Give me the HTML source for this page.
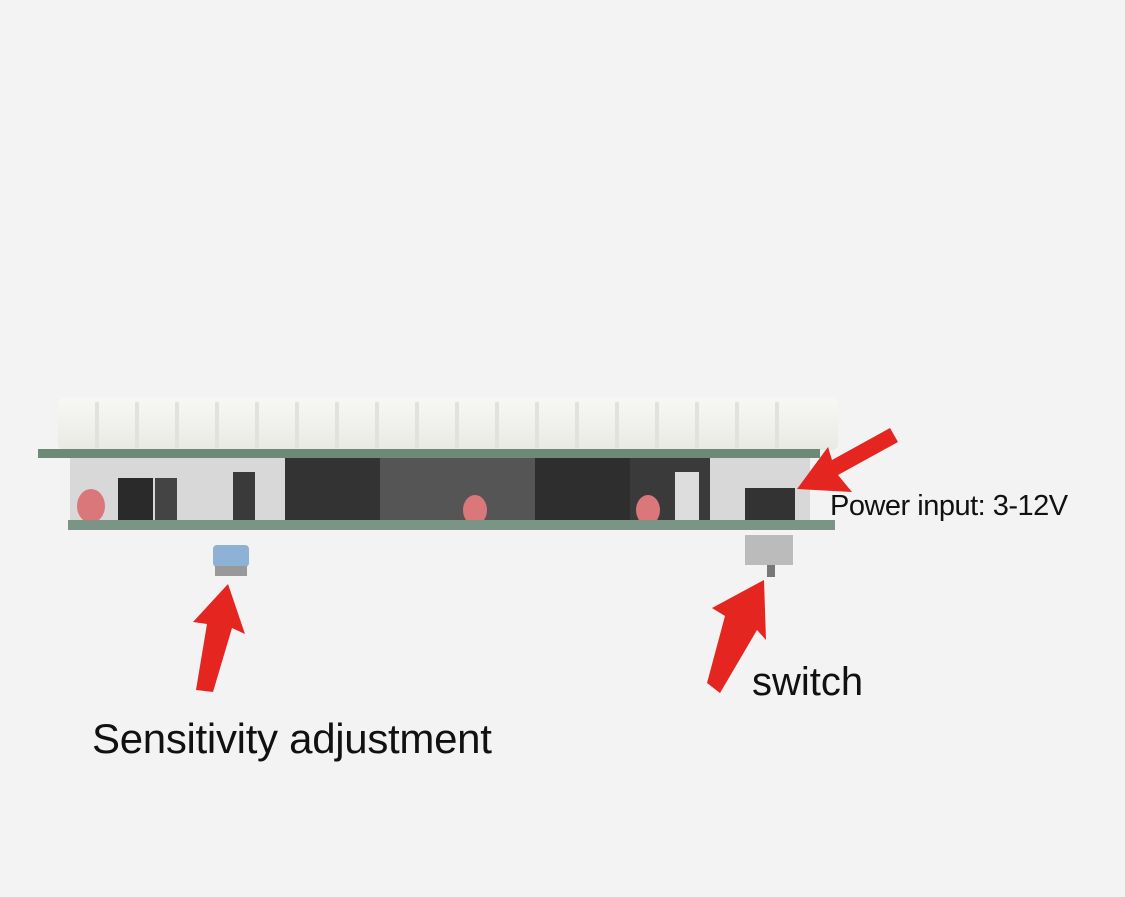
<!DOCTYPE html>
<html><head><style>
body{margin:0;width:1125px;height:897px;background:#f3f3f3;position:relative;overflow:hidden;font-family:"Liberation Sans",sans-serif}
.a{position:absolute}
.t{position:absolute;color:#111;white-space:nowrap}
</style></head><body>
<svg class="a" style="left:0;top:0" width="1125" height="897">
<defs><linearGradient id="led" x1="0" y1="0" x2="0" y2="1"><stop offset="0" stop-color="#f7f7f5"/><stop offset="1" stop-color="#e9e9e4"/></linearGradient></defs>
<g fill="url(#led)">
<rect x="58" y="398" width="780" height="52" rx="6"/>
</g>
<g fill="#e2e2dc">
<rect x="95" y="402" width="4" height="46"/><rect x="135" y="402" width="4" height="46"/><rect x="175" y="402" width="4" height="46"/><rect x="215" y="402" width="4" height="46"/><rect x="255" y="402" width="4" height="46"/><rect x="295" y="402" width="4" height="46"/><rect x="335" y="402" width="4" height="46"/><rect x="375" y="402" width="4" height="46"/><rect x="415" y="402" width="4" height="46"/><rect x="455" y="402" width="4" height="46"/><rect x="495" y="402" width="4" height="46"/><rect x="535" y="402" width="4" height="46"/><rect x="575" y="402" width="4" height="46"/><rect x="615" y="402" width="4" height="46"/><rect x="655" y="402" width="4" height="46"/><rect x="695" y="402" width="4" height="46"/><rect x="735" y="402" width="4" height="46"/><rect x="775" y="402" width="4" height="46"/>
</g>
<rect x="70" y="458" width="740" height="64" fill="#d8d8d8"/>
<rect x="285" y="458" width="95" height="64" fill="#333"/>
<rect x="380" y="458" width="155" height="64" fill="#555"/>
<rect x="535" y="458" width="95" height="64" fill="#2e2e2e"/>
<rect x="630" y="458" width="80" height="64" fill="#3a3a3a"/>
<rect x="118" y="478" width="35" height="44" fill="#2a2a2a"/>
<rect x="155" y="478" width="22" height="44" fill="#444"/>
<rect x="233" y="472" width="22" height="50" fill="#3a3a3a"/>
<rect x="420" y="472" width="22" height="50" fill="#555"/>
<rect x="675" y="472" width="24" height="50" fill="#ddd"/>
<rect x="745" y="488" width="50" height="34" fill="#333"/>
<ellipse cx="91" cy="506" rx="14" ry="17" fill="#d9777a"/>
<ellipse cx="475" cy="510" rx="12" ry="15" fill="#d9777a"/>
<ellipse cx="648" cy="510" rx="12" ry="15" fill="#d9777a"/>
<rect x="38" y="449" width="782" height="9" fill="#6d8a77"/>
<rect x="68" y="520" width="767" height="10" fill="#7a9585"/>
<rect x="213" y="545" width="36" height="22" rx="4" fill="#8eb2d6"/>
<rect x="215" y="566" width="32" height="10" fill="#999"/>
<rect x="745" y="535" width="48" height="30" fill="#bbb"/>
<rect x="767" y="565" width="8" height="12" fill="#777"/>
<g fill="#e5251f">
<polygon points="196,690 213,692 232,628 245,634 228,584 193,622 207,624"/>
<polygon points="707,683 720,693 757,630 766,640 764,580 712,608 725,616"/>
<polygon points="898,442 890,428 832,460 828,447 797,489 852,492 838,475"/>
</g>
</svg>
<div class="t" style="left:830px;top:490px;font-size:29px;letter-spacing:-0.5px">Power input: 3-12V</div>
<div class="t" style="left:752px;top:660px;font-size:40px">switch</div>
<div class="t" style="left:92px;top:715px;font-size:42px;letter-spacing:-0.3px">Sensitivity adjustment</div>
</body></html>
